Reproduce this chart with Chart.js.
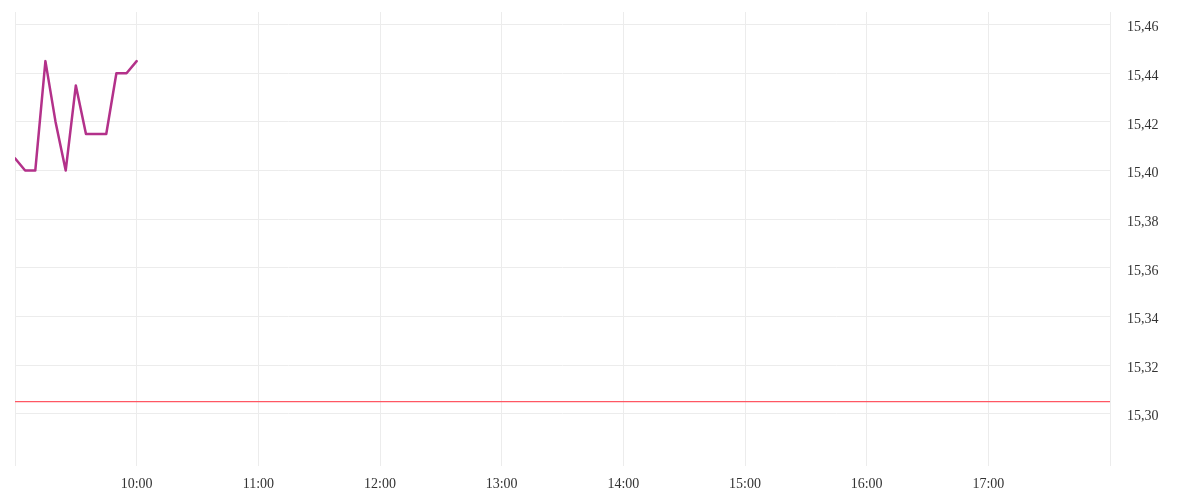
<!DOCTYPE html>
<html>
<head>
<meta charset="utf-8">
<script src="https://cdn.jsdelivr.net/npm/chart.js@4/dist/chart.umd.min.js"></script>
<style>
  html, body { margin: 0; padding: 0; background: #fff; }
  #caja { width: 1200px; height: 500px; }
</style>
</head>
<body>
<div id="caja"><canvas id="grafica"></canvas></div>
<script>
// horas de las cotizaciones (cada 5 minutos)
const horas = ["09:00", "09:05", "09:10", "09:15", "09:20", "09:25", "09:30",
               "09:35", "09:40", "09:45", "09:50", "09:55", "10:00"];
const precios = [15.405, 15.40, 15.40, 15.445, 15.42, 15.40, 15.435,
                 15.415, 15.415, 15.415, 15.44, 15.44, 15.445];
const cierreAnterior = 15.305;
const etiquetasHoras = ["09:00", "10:00", "11:00", "12:00", "13:00", "14:00", "15:00", "16:00", "17:00", "18:00"];

// minutos desde las 09:00
function aMinutos(hora) {
    const partes = hora.split(":");
    return (parseInt(partes[0]) - 9) * 60 + parseInt(partes[1]);
}

const puntos = horas.map((h, i) => ({ x: aMinutos(h), y: precios[i] }));
const lineaCierre = [
    { x: aMinutos(etiquetasHoras[0]), y: cierreAnterior },
    { x: aMinutos(etiquetasHoras[etiquetasHoras.length - 1]), y: cierreAnterior },
];

const colorRejilla = "#ececec";
const fuente = { family: "'Liberation Serif', serif", size: 14 };

const grafica = document.getElementById("grafica");

new Chart(grafica, {
    type: "line",
    data: {
        datasets: [
            {
                data: puntos,
                borderColor: "#b3318a",
                borderWidth: 2.5,
                borderJoinStyle: "round",
                borderCapStyle: "round",
                pointRadius: 0,
                tension: 0,
            },
            {
                data: lineaCierre,
                borderColor: "#ff5763",
                borderWidth: 1.3,
                pointRadius: 0,
            },
        ],
    },
    options: {
        responsive: true,
        maintainAspectRatio: false,
        animation: false,
        layout: { padding: { top: 12, left: 15, right: 0, bottom: 0 } },
        plugins: {
            legend: { display: false },
            tooltip: { enabled: false },
        },
        scales: {
            x: {
                type: "linear",
                min: 0,
                max: 540,
                afterFit: scale => { scale.height = 42; },
                afterBuildTicks: scale => {
                    scale.ticks = etiquetasHoras.map(h => ({ value: aMinutos(h) }));
                },
                grid: { color: colorRejilla, tickLength: 8 },
                border: { display: false },
                ticks: {
                    padding: 10,
                    color: "#333",
                    font: fuente,
                    maxRotation: 0,
                    callback: (v) => {
                        const h = etiquetasHoras.find(e => aMinutos(e) === v);
                        if (!h || h === "09:00" || h === "18:00") return "";
                        return h.replace(/^0/, "");
                    },
                },
            },
            y: {
                position: "right",
                min: 15.2818,
                max: 15.4652,
                afterFit: scale => {
                    scale.width = 90;
                    scale.paddingTop = 0;
                    scale.paddingBottom = 0;
                },
                afterBuildTicks: scale => {
                    const t = [];
                    for (let v = 1530; v <= 1546; v += 2) t.push({ value: v / 100 });
                    scale.ticks = t;
                },
                grid: { color: colorRejilla, drawTicks: false },
                border: { color: colorRejilla },
                ticks: {
                    padding: 17,
                    labelOffset: 3,
                    color: "#333",
                    font: fuente,
                    callback: v => v.toFixed(2).replace(".", ","),
                },
            },
        },
    },
});
</script>
</body>
</html>
